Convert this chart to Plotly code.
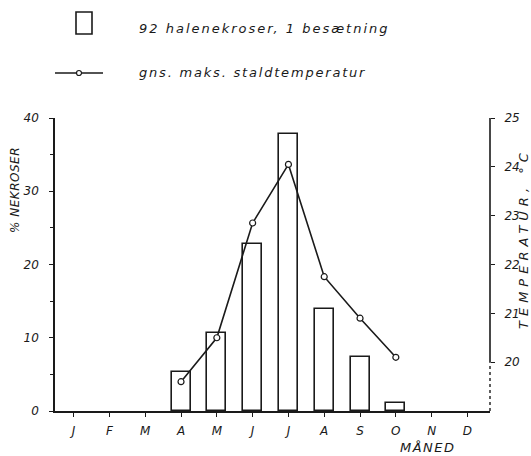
import plotly.graph_objects as go

months = ["J", "F", "M", "A", "M", "J", "J", "A", "S", "O", "N", "D"]
necrosis_pct = [0, 0, 0, 5.3, 10.7, 22.8, 37.8, 13.9, 7.4, 1.1, 0, 0]
temp_c = [None, None, None, 19.6, 20.5, 22.85, 24.05, 21.75, 20.9, 20.1, None, None]
left_ticks = [0, 10, 20, 30, 40]
right_ticks = [20, 21, 22, 23, 24, 25]
bar_label = "92 halenekroser, 1 besætning"
line_label = "gns. maks. staldtemperatur"
left_title = "% NEKROSER"
right_title = "TEMPERATUR, °C"
x_title = "MÅNED"

x = list(range(1, len(months) + 1))
bar_y = [v if v > 0 else None for v in necrosis_pct]

W, H = 531, 456
L, R, T, B = 55, 41, 118, 45
PW, PH = W - L - R, H - T - B

def px(xp):
    return (xp - L) / PW

def py(yp):
    return (H - B - yp) / PH

def spaced(s, ls):
    return f'<span style="letter-spacing:{ls}px">{s}</span>'

INK = "#1a1a1a"
FONT = dict(family="DejaVu Sans", size=12, color=INK, style="italic")

fig = go.Figure()
fig.add_trace(go.Bar(
    x=x, y=bar_y, width=0.53,
    marker=dict(color="white", line=dict(color=INK, width=1.6)),
    showlegend=False, yaxis="y",
))
fig.add_trace(go.Scatter(
    x=x, y=temp_c, mode="lines+markers", yaxis="y2",
    line=dict(color=INK, width=1.6),
    marker=dict(symbol="circle", size=6, color="white", line=dict(color=INK, width=1.2)),
    showlegend=False, connectgaps=False,
))

fig.update_layout(
    width=W, height=H,
    margin=dict(l=L, r=R, t=T, b=B, pad=0),
    plot_bgcolor="white", paper_bgcolor="white",
    font=FONT,
    bargap=0,
    xaxis=dict(
        range=[0.48, 12.63], tickmode="array", tickvals=x, ticktext=months,
        showline=True, linecolor=INK, linewidth=1.6,
        ticks="outside", ticklen=4, tickcolor=INK, tickwidth=1,
        showgrid=False, zeroline=False, tickfont=dict(size=12),
        ticklabelstandoff=4,
    ),
    yaxis=dict(
        range=[0, 40], tickvals=left_ticks, showline=True, linecolor=INK, linewidth=1.6,
        ticks="outside", ticklen=4, tickcolor=INK, showgrid=False, zeroline=False,
        minor=dict(tickvals=[5, 15, 25, 35], ticks="outside", ticklen=3, tickcolor=INK),
        tickfont=dict(size=12), ticklabelstandoff=8,
    ),
    yaxis2=dict(
        range=[19, 25], tickvals=right_ticks, overlaying="y", side="right",
        showline=False, ticks="outside", ticklen=4, tickcolor=INK,
        showgrid=False, zeroline=False, tickfont=dict(size=12), ticklabelstandoff=7,
    ),
    shapes=[
        dict(type="line", xref="paper", yref="y2", x0=1, x1=1, y0=20, y1=25,
             line=dict(color=INK, width=1.6)),
        dict(type="line", xref="paper", yref="y2", x0=1, x1=1, y0=19, y1=20,
             line=dict(color=INK, width=1.4, dash="dot")),
        dict(type="rect", xref="paper", yref="paper", x0=px(76), x1=px(92), y0=py(34), y1=py(12),
             line=dict(color=INK, width=1.6), fillcolor="white"),
        dict(type="line", xref="paper", yref="paper", x0=px(55), x1=px(103), y0=py(73), y1=py(73),
             line=dict(color=INK, width=1.4)),
        dict(type="circle", xref="paper", yref="paper", x0=px(76.5), x1=px(81.5), y0=py(75.5), y1=py(70.5),
             line=dict(color=INK, width=1.2), fillcolor="white"),
    ],
    annotations=[
        dict(text=spaced(bar_label, 2), xref="paper", yref="paper", x=px(137), y=py(29), xanchor="left",
             yanchor="middle", showarrow=False, font=dict(size=13)),
        dict(text=spaced(line_label, 1.8), xref="paper", yref="paper", x=px(137), y=py(73), xanchor="left",
             yanchor="middle", showarrow=False, font=dict(size=13)),
        dict(text=spaced(left_title, 0.5), xref="paper", yref="paper", x=px(15), y=py(190), textangle=-90,
             xanchor="center", yanchor="middle", showarrow=False, font=dict(size=12)),
        dict(text=spaced(right_title, 5), xref="paper", yref="paper", x=px(523), y=py(239), textangle=-90,
             xanchor="center", yanchor="middle", showarrow=False, font=dict(size=13)),
        dict(text=spaced(x_title, 1.5), xref="paper", yref="paper", x=px(428), y=py(448),
             xanchor="center", yanchor="middle", showarrow=False, font=dict(size=13)),
    ],
)

fig.write_html("out.html", config={"displayModeBar": False},
               post_script="document.body.style.margin='0';document.body.style.overflow='hidden';")
